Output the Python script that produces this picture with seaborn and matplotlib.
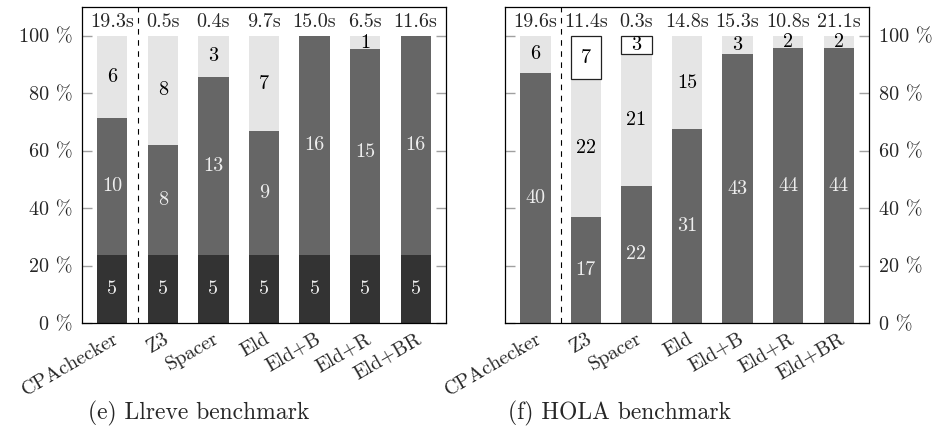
import numpy as np
import pandas as pd
import seaborn as sns
import matplotlib.pyplot as plt

# data
tools = ["CPAchecker", "Z3", "Spacer", "Eld", "Eld+B", "Eld+R", "Eld+BR"]

llreve_dark = [5, 5, 5, 5, 5, 5, 5]
llreve_mid = [10, 8, 13, 9, 16, 15, 16]
llreve_light = [6, 8, 3, 7, 0, 1, 0]
llreve_box = [0, 0, 0, 0, 0, 0, 0]
llreve_time = ["19.3s", "0.5s", "0.4s", "9.7s", "15.0s", "6.5s", "11.6s"]

hola_dark = [0, 0, 0, 0, 0, 0, 0]
hola_mid = [40, 17, 22, 31, 43, 44, 44]
hola_light = [6, 22, 21, 15, 3, 2, 2]
hola_box = [0, 7, 3, 0, 0, 0, 0]
hola_time = ["19.6s", "11.4s", "0.3s", "14.8s", "15.3s", "10.8s", "21.1s"]

FS = 14.5

sns.set_theme(style="white")
plt.rcParams["font.family"] = "serif"
plt.rcParams["font.serif"] = ["cmr10", "DejaVu Serif"]
plt.rcParams["axes.formatter.use_mathtext"] = True
plt.rcParams["font.size"] = FS
plt.rcParams["xtick.labelsize"] = FS
plt.rcParams["ytick.labelsize"] = FS

# (column, face colour, text colour)
layers = [("dark", "#333333", "#eeeeee"),
          ("mid", "#666666", "#eeeeee"),
          ("light", "#e5e5e5", "black"),
          ("box", "white", "black")]


def plot_bench(ax, dark, mid, light, box, times, side):
    df = pd.DataFrame({"tool": tools, "dark": dark, "mid": mid,
                       "light": light, "box": box})
    total = df[["dark", "mid", "light", "box"]].sum(axis=1)
    bottom = np.zeros(len(df))
    for col, fc, tc in layers:
        pct = (df[col] / total * 100).to_numpy()
        sns.barplot(x=df["tool"], y=pct, bottom=bottom, color=fc, width=0.6,
                    saturation=1, errorbar=None, linewidth=0, ax=ax)
        bars = ax.containers[-1]
        for i, (p, v) in enumerate(zip(bars.patches, df[col])):
            if v == 0:
                p.set_visible(False)
                continue
            if col == "box":
                p.set_edgecolor("#222222")
                p.set_linewidth(0.9)
            ax.text(i, bottom[i] + pct[i] / 2, str(v), color=tc,
                    ha="center", va="center", fontsize=FS)
        bottom = bottom + pct

    for i, t in enumerate(times):
        ax.text(i, 104.6, t, ha="center", va="center", fontsize=FS)

    ax.axvline(0.5, color="black", lw=0.8, ls=(0, (5, 5)))
    ax.set_xlim(-0.6, 6.6)
    ax.set_ylim(0, 110)
    ax.set_xlabel("")
    ax.set_ylabel("")
    ax.set_yticks(range(0, 101, 20))
    ax.set_yticklabels([f"{v} %" for v in range(0, 101, 20)], fontsize=FS)
    ax.tick_params(axis="y", direction="in", length=7, width=1, color="#a0a0a0",
                   left=True, right=True, pad=7,
                   labelleft=(side == "left"), labelright=(side == "right"))
    ax.set_xticks(range(len(tools)))
    ax.set_xticklabels(tools, rotation=30, ha="right", rotation_mode="anchor",
                       fontsize=FS)
    ax.tick_params(axis="x", length=0, pad=5)
    for s in ax.spines.values():
        s.set_color("black")
        s.set_linewidth(0.9)


fig = plt.figure(figsize=(9.35, 4.32), dpi=100)
ax1 = fig.add_axes([82 / 935, 109 / 432, 364 / 935, 316 / 432])
ax2 = fig.add_axes([505 / 935, 109 / 432, 364 / 935, 316 / 432])

plot_bench(ax1, llreve_dark, llreve_mid, llreve_light, llreve_box, llreve_time, "left")
plot_bench(ax2, hola_dark, hola_mid, hola_light, hola_box, hola_time, "right")

fig.text(88 / 935, 1 - 413 / 432, "(e) Llreve benchmark", ha="left", va="center", fontsize=17)
fig.text(508 / 935, 1 - 413 / 432, "(f) HOLA benchmark", ha="left", va="center", fontsize=17)

fig.savefig("out.png", dpi=100)
